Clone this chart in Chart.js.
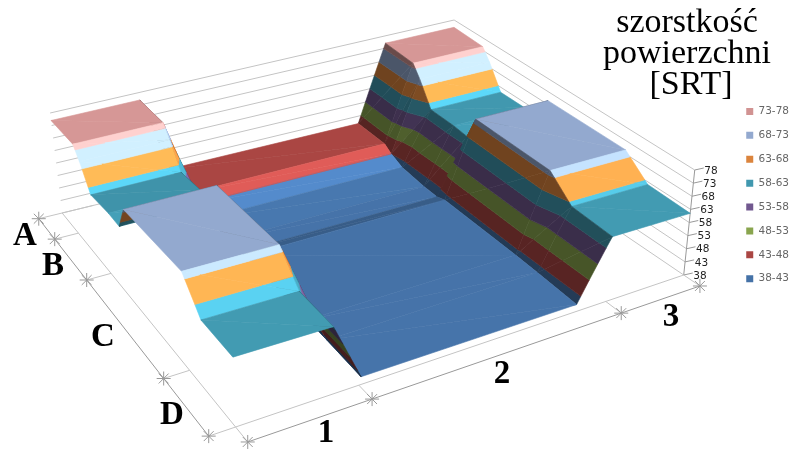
<!DOCTYPE html>
<html>
<head>
<meta charset="utf-8">
<title>szorstkość powierzchni [SRT]</title>
<script src="https://cdn.jsdelivr.net/npm/chart.js@4"></script>
<style>
  html, body { margin: 0; padding: 0; background: #fff; }
</style>
</head>
<body>
<canvas id="srtChart" width="799" height="456"></canvas>
<script>
// chart text
var titleLines = ["szorstkość", "powierzchni", "[SRT]"];
var seriesLabels = ["A", "B", "C", "D"];
var categoryLabels = ["1", "2", "3"];
var zTicks = [38, 43, 48, 53, 58, 63, 68, 73, 78];

// value bands, top one first (legend order)
var bandNames = ["73-78", "68-73", "63-68", "58-63", "53-58", "48-53", "43-48", "38-43"];
var bandColors = ["#D19392", "#93A9CF", "#DB843D", "#4198AF", "#71588F", "#89A54E", "#AA4643", "#4572A7"];

// axis ticks, as a fraction of the floor
var seriesTicks = [0, 0.094, 0.282, 0.735, 1];
var categoryTicks = [0, 0.275, 0.826, 1];

// surface grid positions
var gridRows = [0, 0.12, 0.15, 0.2, 0.3, 0.36, 0.395, 0.72, 0.82, 1];
var gridCols = [0, 0.22, 0.28, 0.76, 0.83, 1];

// surface height, one value per grid row
var leftBlock = [75, 74.5, 70, 61, 61.5, 61, 69.5, 69.5, 60, 59.5];
var valley = [45, 45, 43, 41, 40.2, 40.1, 41.2, 41.2, 41, 40.5];
var rightBlock = [75, 74.5, 70, 61, 61, 60.5, 69.5, 69.5, 62, 61.5];

// box corners of the 3D view: [x floor, y floor, x top, y top]
var backLeft = [62, 213, 50, 113];
var backRight = [451, 118, 453, 20];
var frontLeft = [235, 427, 230, 297];
var frontRight = [682, 275, 693, 170];

var zMin = zTicks[0];
var zMax = zTicks[zTicks.length - 1];

function project(u, v, z) {
    var t = (z - zMin) / (zMax - zMin);
    function mix(i) {
        return (1 - u) * (1 - v) * backLeft[i] + u * (1 - v) * backRight[i] +
               (1 - u) * v * frontLeft[i] + u * v * frontRight[i];
    }
    return { x: mix(0) + (mix(2) - mix(0)) * t, y: mix(1) + (mix(3) - mix(1)) * t };
}

function heightAt(i, j) {
    if (j < 2) return leftBlock[i];
    if (j < 4) return valley[i];
    return rightBlock[i];
}

// keep the part of a polygon on one side of a z level
function clipZ(poly, level, keepAbove) {
    var out = [];
    for (var i = 0; i < poly.length; i++) {
        var a = poly[i], b = poly[(i + 1) % poly.length];
        var aIn = keepAbove ? a[2] >= level : a[2] <= level;
        var bIn = keepAbove ? b[2] >= level : b[2] <= level;
        if (aIn) out.push(a);
        if (aIn !== bIn) {
            var t = (level - a[2]) / (b[2] - a[2]);
            out.push([a[0] + (b[0] - a[0]) * t, a[1] + (b[1] - a[1]) * t, level]);
        }
    }
    return out;
}

function shade(hex, f) {
    var n = parseInt(hex.slice(1), 16);
    var r = Math.min(255, Math.round((n >> 16) * f));
    var g = Math.min(255, Math.round(((n >> 8) & 255) * f));
    var b = Math.min(255, Math.round((n & 255) * f));
    return "rgb(" + r + "," + g + "," + b + ")";
}

// faces turned to the viewer are brighter, faces turned away go dark
function lightOf(p, q, r) {
    var ax = q[0] - p[0], ay = q[1] - p[1], az = (q[2] - p[2]) / 80;
    var bx = r[0] - p[0], by = r[1] - p[1], bz = (r[2] - p[2]) / 80;
    var nx = ay * bz - az * by, ny = az * bx - ax * bz, nz = ax * by - ay * bx;
    var len = Math.sqrt(nx * nx + ny * ny + nz * nz);
    if (nz < 0) len = -len;
    nx /= len;
    ny /= len;
    var f = nx < 0 ? 1 + 0.5 * ny * (1 + nx) + 0.5 * nx : 1 + 0.5 * ny;
    // faces looking right and not forward sit in shadow
    if (nx > 0.5 && ny < 0.1) f = 0.4;
    return Math.max(0.4, Math.min(1.42, f));
}

function addTriangle(list, tri) {
    var f = lightOf(tri[0], tri[1], tri[2]);
    for (var b = bandNames.length - 1; b >= 0; b--) {
        var lo = zMin + (bandNames.length - 1 - b) * 5;
        var poly = clipZ(clipZ(tri, lo, true), lo + 5, false);
        if (poly.length < 3) continue;
        var pts = poly.map(function (p) { return project(p[0], p[1], p[2]); });
        pts.push(pts[0]);
        var color = shade(bandColors[b], f);
        list.push({
            type: "scatter", data: pts, showLine: true, fill: "shape", tension: 0,
            backgroundColor: color, borderColor: color, borderWidth: 0.6,
            pointRadius: 0, clip: false
        });
    }
}

function lineSet(pts, color, width) {
    return {
        type: "scatter", data: pts, showLine: true, fill: false, tension: 0,
        borderColor: color, borderWidth: width || 1, pointRadius: 0, clip: false
    };
}

var gridColor = "#c4c4c4";
var sets = [];

// walls
zTicks.forEach(function (z) {
    sets.push(lineSet([project(0, 0, z), project(1, 0, z), project(1, 1, z)], gridColor));
    var end = project(1, 1, z);
    sets.push(lineSet([end, { x: end.x + 9, y: end.y - 2 }], "#999"));
});
sets.push(lineSet([project(1, 1, zMin), project(1, 1, zMax)], "#999"));

// floor edges and the outer axes
sets.push(lineSet([project(0, 0, zMin), project(0, 1, zMin), project(1, 1, zMin)], gridColor));
sets.push(lineSet(seriesTicks.map(function (v) { return project(-0.06, v, zMin); }), "#999"));
sets.push(lineSet(categoryTicks.map(function (u) { return project(u, 1.07, zMin); }), "#999"));
seriesTicks.forEach(function (v) {
    sets.push(lineSet([project(-0.06, v, zMin), project(v === 0 ? 0.08 : 0, v, zMin)], gridColor));
});
categoryTicks.forEach(function (u) {
    sets.push(lineSet([project(u, 1.07, zMin), project(u, 1, zMin)], gridColor));
});
var starPoints = seriesTicks.map(function (v) { return project(-0.06, v, zMin); })
    .concat(categoryTicks.map(function (u) { return project(u, 1.07, zMin); }));
sets.push({
    type: "scatter", data: starPoints, pointStyle: "star", pointRadius: 7,
    borderColor: "#999", borderWidth: 1, backgroundColor: "#999", clip: false
});

// surface, far cells first
for (var i = 0; i < gridRows.length - 1; i++) {
    for (var j = gridCols.length - 2; j >= 0; j--) {
        var p00 = [gridCols[j], gridRows[i], heightAt(i, j)];
        var p10 = [gridCols[j + 1], gridRows[i], heightAt(i, j + 1)];
        var p01 = [gridCols[j], gridRows[i + 1], heightAt(i + 1, j)];
        var p11 = [gridCols[j + 1], gridRows[i + 1], heightAt(i + 1, j + 1)];
        addTriangle(sets, [p00, p10, p11]);
        addTriangle(sets, [p00, p11, p01]);
    }
}

// chart.js paints the first dataset last
sets.reverse();

var textPlugin = {
    id: "textPlugin",
    afterDraw: function (chart) {
        var ctx = chart.ctx;
        function put(text, x, y) {
            ctx.fillText(text, x, y);
        }
        ctx.save();
        ctx.textAlign = "center";
        ctx.textBaseline = "alphabetic";
        ctx.fillStyle = "#000";
        ctx.font = "34px 'Liberation Serif'";
        put(titleLines[0], 687, 32);
        put(titleLines[1], 687, 63);
        put(titleLines[2], 691, 94);

        ctx.font = "bold 33px 'Liberation Serif'";
        var seriesAt = [[25, 245], [53, 275], [103, 346], [172, 424]];
        seriesLabels.forEach(function (s, k) { put(s, seriesAt[k][0], seriesAt[k][1]); });
        var catAt = [[326, 442], [502, 383], [671, 326]];
        categoryLabels.forEach(function (s, k) { put(s, catAt[k][0], catAt[k][1]); });

        ctx.font = "10.5px 'DejaVu Sans'";
        ctx.fillStyle = "#222";
        ctx.textBaseline = "middle";
        zTicks.forEach(function (z) {
            var p = project(1, 1, z);
            put(String(z), p.x + 18, p.y + 1);
        });
        ctx.restore();
    }
};

new Chart(document.getElementById("srtChart"), {
    type: "scatter",
    data: { datasets: sets },
    plugins: [textPlugin],
    options: {
        responsive: false,
        animation: false,
        events: [],
        layout: { padding: 0, autoPadding: false },
        scales: {
            // one unit per pixel: the chart area ends where the legend starts
            x: { display: false, type: "linear", min: 0, max: 731 },
            y: { display: false, type: "linear", reverse: true, min: 0, max: 456 }
        },
        plugins: {
            tooltip: { enabled: false },
            legend: {
                position: "right",
                align: "start",
                title: { display: true, text: " ", padding: { top: 88, bottom: 0 }, font: { size: 4 } },
                labels: {
                    boxWidth: 7,
                    boxHeight: 7,
                    padding: 13.4,
                    color: "#222",
                    font: { family: "'DejaVu Sans'", size: 10.5 },
                    generateLabels: function () {
                        return bandNames.map(function (name, k) {
                            return { text: name, fillStyle: bandColors[k], strokeStyle: bandColors[k], lineWidth: 0, datasetIndex: k };
                        });
                    }
                }
            }
        }
    }
});
</script>
</body>
</html>
